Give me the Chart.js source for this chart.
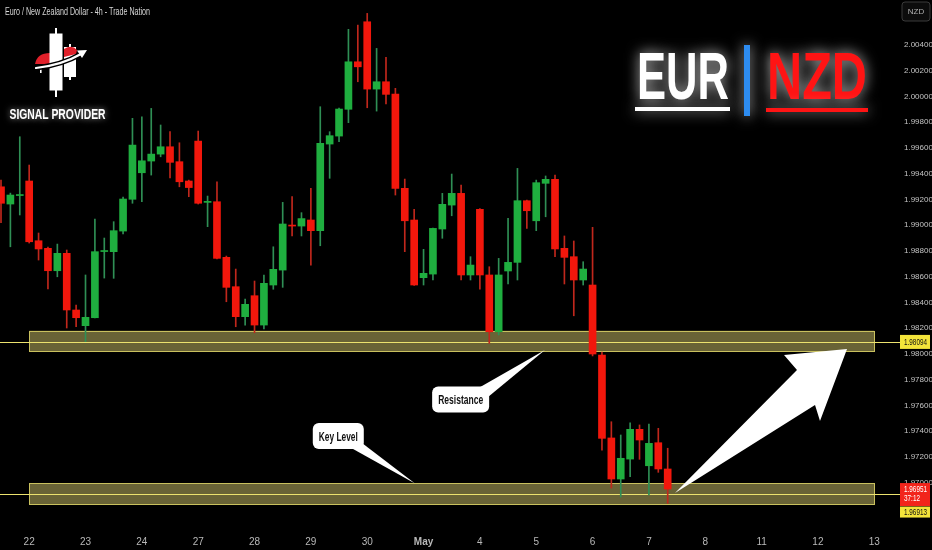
<!DOCTYPE html>
<html>
<head>
<meta charset="utf-8">
<script src="https://cdn.jsdelivr.net/npm/chart.js@4.4.1/dist/chart.umd.min.js"></script>
<style>
    html, body { margin: 0; padding: 0; background: #000; }
    #wrap { width: 932px; height: 550px; }
</style>
</head>
<body>
<div id="wrap"><canvas id="chart" width="932" height="550"></canvas></div>
<script>
// Velas de 4h EUR/NZD
const opens = [
    1.99299, 1.99165, 1.99231, 1.99344, 1.98880, 1.98821, 1.98647, 1.98782, 1.98342, 1.98220,
    1.98282, 1.98796, 1.98795, 1.98955, 1.99202, 1.99408, 1.99499, 1.99553, 1.99610, 1.99494,
    1.99344, 1.99654, 1.99178, 1.99183, 1.98751, 1.98523, 1.98290, 1.98453, 1.98225, 1.98536,
    1.98652, 1.98998, 1.98994, 1.99041, 1.98958, 1.99631, 1.99693, 1.99901, 2.00270, 2.00581,
    2.00058, 2.00115, 2.00019, 1.99287, 1.99041, 1.98593, 1.98621, 1.98971, 1.99157, 1.99248,
    1.98614, 1.99124, 1.98614, 1.98173, 1.98645, 1.98712, 1.99191, 1.99035, 1.99326, 1.99357,
    1.98821, 1.98756, 1.98575, 1.98536, 1.97992, 1.97348, 1.97029, 1.97184, 1.97415, 1.97132,
    1.97311, 1.97107
];
const highs = [
    1.99351, 1.99250, 1.99688, 1.99468, 1.98940, 1.98831, 1.98854, 1.98808, 1.98381, 1.98614,
    1.99049, 1.98901, 1.99028, 1.99219, 1.99831, 1.99843, 1.99908, 1.99779, 1.99727, 1.99641,
    1.99351, 1.99732, 1.99227, 1.99338, 1.98761, 1.98660, 1.98427, 1.98567, 1.98614, 1.98833,
    1.99178, 1.99222, 1.99098, 1.99287, 1.99921, 1.99727, 1.99911, 2.00522, 2.00555, 2.00646,
    2.00374, 2.00304, 2.00064, 1.99359, 1.99124, 1.98813, 1.98979, 1.99248, 1.99398, 1.99313,
    1.98756, 1.99130, 1.98678, 1.98743, 1.99054, 1.99442, 1.99196, 1.99351, 1.99383, 1.99390,
    1.98917, 1.98878, 1.98717, 1.98984, 1.98016, 1.97474, 1.97371, 1.97466, 1.97449, 1.97456,
    1.97423, 1.97268
];
const lows = [
    1.99020, 1.98833, 1.99080, 1.98862, 1.98730, 1.98505, 1.98600, 1.98202, 1.98212, 1.98096,
    1.98280, 1.98590, 1.98588, 1.98932, 1.99171, 1.99183, 1.99390, 1.99532, 1.99367, 1.99299,
    1.99222, 1.99165, 1.98989, 1.98738, 1.98406, 1.98212, 1.98225, 1.98165, 1.98194, 1.98503,
    1.98518, 1.98917, 1.98917, 1.98691, 1.98841, 1.99365, 1.99649, 1.99797, 2.00115, 1.99913,
    1.99887, 1.99942, 1.99235, 1.98795, 1.98532, 1.98536, 1.98575, 1.98899, 1.99074, 1.98575,
    1.98575, 1.98503, 1.98083, 1.98148, 1.98544, 1.98575, 1.98976, 1.98958, 1.99066, 1.98756,
    1.98544, 1.98297, 1.98536, 1.97985, 1.97254, 1.96959, 1.96889, 1.97047, 1.97182, 1.96905,
    1.97081, 1.96840
];
const closes = [
    1.99171, 1.99235, 1.99235, 1.98872, 1.98816, 1.98647, 1.98782, 1.98342, 1.98282, 1.98285,
    1.98795, 1.98800, 1.98958, 1.99204, 1.99623, 1.99501, 1.99553, 1.99610, 1.99489, 1.99338,
    1.99293, 1.99171, 1.99181, 1.98743, 1.98518, 1.98290, 1.98386, 1.98225, 1.98549, 1.98658,
    1.99010, 1.98994, 1.99052, 1.98958, 1.99637, 1.99696, 1.99903, 2.00270, 2.00231, 2.00058,
    2.00115, 2.00017, 1.99287, 1.99035, 1.98536, 1.98627, 1.98976, 1.99163, 1.99248, 1.98614,
    1.98691, 1.98614, 1.98173, 1.98614, 1.98712, 1.99191, 1.99113, 1.99331, 1.99357, 1.98816,
    1.98751, 1.98575, 1.98660, 1.98000, 1.97345, 1.97029, 1.97190, 1.97415, 1.97332, 1.97306,
    1.97107, 1.96951
];

// Eje de tiempo: índice de vela donde empieza cada día
const dayIndex = [3, 9, 15, 21, 27, 33, 39, 45, 51, 57, 63, 69, 75, 81, 87, 93];
const dayLabels = ['22', '23', '24', '27', '28', '29', '30', 'May', '4', '5', '6', '7', '8', '11', '12', '13'];

// Eje de precios
const priceTicks = [
    1.970, 1.972, 1.974, 1.976, 1.978, 1.980, 1.982, 1.984, 1.986,
    1.988, 1.990, 1.992, 1.994, 1.996, 1.998, 2.000, 2.002, 2.004
];

// Niveles y zonas
const zoneSpan = [3, 93];
const resistanceZone = [1.98023, 1.98181];
const keyZone = [1.96835, 1.96996];
const resistanceLevel = 1.98094;
const keyLevel = 1.96913;
const lastPrice = 1.96951;
const countdown = '37:12';

// Anotaciones (índice de vela, precio)
const arrowPoints = [
    [71.78, 1.96920], [84.77, 1.97876], [83.39, 1.97992],
    [90.10, 1.98039], [87.22, 1.97480], [86.69, 1.97604]
];
const callouts = [
    { text: 'Resistance', at: [48.95, 1.97647], w: 57, tip: [57.93, 1.98031], tail: [[17, -11], [28, -3]] },
    { text: 'Key Level', at: [35.92, 1.97363], w: 51, tip: [44.09, 1.96994], tail: [[13, 12], [25, 8]] }
];

const GREEN = '#1fae3f';
const RED = '#f2170c';
const WICK_UP = '#2f8f55';
const WICK_DN = '#c0271c';
const NARROW = '"Liberation Sans Narrow", "Liberation Sans", sans-serif';

const isUp = i => closes[i] >= opens[i];

// Texto ajustado a un ancho dado (fuente condensada)
function fitText(ctx, text, x, y, w, font, align) {
    ctx.save();
    ctx.font = font;
    const m = ctx.measureText(text).width;
    ctx.translate(align === 'center' ? x - w / 2 : x, y);
    ctx.scale(w / m, 1);
    ctx.textAlign = 'left';
    ctx.fillText(text, 0, 0);
    ctx.restore();
}

function roundRect(ctx, x, y, w, h, r) {
    ctx.beginPath();
    ctx.moveTo(x + r, y);
    ctx.arcTo(x + w, y, x + w, y + h, r);
    ctx.arcTo(x + w, y + h, x, y + h, r);
    ctx.arcTo(x, y + h, x, y, r);
    ctx.arcTo(x, y, x + w, y, r);
    ctx.closePath();
}

function drawLogo(ctx) {
    ctx.save();
    // mancha roja izquierda
    ctx.fillStyle = '#e0202a';
    ctx.beginPath();
    ctx.moveTo(35, 64);
    ctx.quadraticCurveTo(37, 53, 50, 53);
    ctx.lineTo(50, 64);
    ctx.closePath();
    ctx.fill();
    // velas blancas
    ctx.fillStyle = '#fff';
    ctx.fillRect(55, 28, 2, 69);
    ctx.fillRect(49.5, 33.5, 13, 57);
    ctx.fillRect(69, 44, 2, 36);
    ctx.fillRect(64, 47, 12, 30);
    ctx.fillRect(40, 67, 1.6, 6);
    // parte roja de la vela corta
    ctx.fillStyle = '#e0202a';
    ctx.beginPath();
    ctx.moveTo(64, 57);
    ctx.lineTo(64, 49);
    ctx.quadraticCurveTo(72, 44, 77, 50);
    ctx.lineTo(76, 54);
    ctx.closePath();
    ctx.fill();
    // flecha curva
    ctx.lineCap = 'round';
    ctx.strokeStyle = '#000';
    ctx.lineWidth = 5;
    ctx.beginPath();
    ctx.moveTo(36, 68);
    ctx.quadraticCurveTo(62, 65, 81, 54);
    ctx.stroke();
    ctx.strokeStyle = '#fff';
    ctx.lineWidth = 2.2;
    ctx.stroke();
    ctx.fillStyle = '#fff';
    ctx.beginPath();
    ctx.moveTo(87, 50);
    ctx.lineTo(77, 50.5);
    ctx.lineTo(82, 58);
    ctx.closePath();
    ctx.fill();
    ctx.restore();
}

const overlayPlugin = {
    id: 'overlay',
    beforeDraw(chart) {
        const ctx = chart.ctx;
        ctx.save();
        ctx.fillStyle = '#000';
        ctx.fillRect(0, 0, chart.width, chart.height);
        ctx.restore();
    },
    beforeDatasetsDraw(chart) {
        const ctx = chart.ctx;
        const X = v => chart.scales.x.getPixelForValue(v);
        const Y = v => chart.scales.y.getPixelForValue(v);
        const area = chart.chartArea;
        ctx.save();
        [resistanceZone, keyZone].forEach(z => {
            const x0 = X(zoneSpan[0]), x1 = X(zoneSpan[1]);
            const y0 = Y(z[1]), y1 = Y(z[0]);
            ctx.fillStyle = 'rgba(175,165,90,0.6)';
            ctx.fillRect(x0, y0, x1 - x0, y1 - y0);
            ctx.strokeStyle = '#c9c15e';
            ctx.lineWidth = 1;
            ctx.strokeRect(Math.round(x0) + 0.5, Math.round(y0) + 0.5, Math.round(x1 - x0), Math.round(y1 - y0));
        });
        [resistanceLevel, keyLevel].forEach(l => {
            const y = Math.round(Y(l)) + 0.5;
            ctx.strokeStyle = '#ece26e';
            ctx.lineWidth = 1.2;
            ctx.beginPath();
            ctx.moveTo(area.left, y);
            ctx.lineTo(area.right, y);
            ctx.stroke();
        });
        ctx.restore();
    },
    afterDatasetsDraw(chart) {
        const ctx = chart.ctx;
        const X = v => chart.scales.x.getPixelForValue(v);
        const Y = v => chart.scales.y.getPixelForValue(v);
        const area = chart.chartArea;
        ctx.save();

        // Flecha blanca
        ctx.fillStyle = '#fff';
        ctx.beginPath();
        arrowPoints.forEach((p, k) => {
            const x = X(p[0]), y = Y(p[1]);
            if (k === 0) ctx.moveTo(x, y); else ctx.lineTo(x, y);
        });
        ctx.closePath();
        ctx.fill();

        // Llamadas
        callouts.forEach(c => {
            const cx = X(c.at[0]), cy = Y(c.at[1]);
            ctx.fillStyle = '#fff';
            ctx.beginPath();
            ctx.moveTo(cx + c.tail[0][0], cy + c.tail[0][1]);
            ctx.lineTo(X(c.tip[0]), Y(c.tip[1]));
            ctx.lineTo(cx + c.tail[1][0], cy + c.tail[1][1]);
            ctx.closePath();
            ctx.fill();
            roundRect(ctx, cx - c.w / 2, cy - 13, c.w, 26, 6);
            ctx.fill();
            ctx.fillStyle = '#111';
            ctx.textBaseline = 'alphabetic';
            fitText(ctx, c.text, cx, cy + 4.5, c.w - 12, 'bold 12px ' + NARROW, 'center');
        });

        // Etiquetas de precio en el eje
        const tagX = area.right;
        const tagW = chart.width - area.right - 2;
        const tagFont = '9px ' + NARROW;
        ctx.textBaseline = 'middle';
        let y = Y(resistanceLevel);
        ctx.fillStyle = '#f3e43a';
        ctx.fillRect(tagX, y - 7, tagW, 14);
        ctx.fillStyle = '#111';
        fitText(ctx, resistanceLevel.toFixed(5), tagX + 4, y + 0.5, 23, tagFont);

        y = Y(lastPrice);
        const redTop = y - 6;
        ctx.fillStyle = '#f2241b';
        ctx.fillRect(tagX, redTop, tagW, 23);
        ctx.fillStyle = '#fff';
        fitText(ctx, lastPrice.toFixed(5), tagX + 4, redTop + 6, 23, tagFont);
        fitText(ctx, countdown, tagX + 4, redTop + 15.5, 16, tagFont);
        ctx.fillStyle = '#f3e43a';
        ctx.fillRect(tagX, redTop + 23.5, tagW, 11);
        ctx.fillStyle = '#111';
        fitText(ctx, keyLevel.toFixed(5), tagX + 4, redTop + 29.5, 23, tagFont);

        // Botón de moneda
        roundRect(ctx, area.right + 2, 2, 28, 19, 3);
        ctx.fillStyle = '#0c0c0c';
        ctx.fill();
        ctx.strokeStyle = '#3a3a3a';
        ctx.lineWidth = 1;
        ctx.stroke();
        ctx.fillStyle = '#b0b0b0';
        ctx.font = '8px ' + NARROW;
        ctx.textAlign = 'center';
        ctx.fillText('NZD', area.right + 16, 12);

        // Título
        ctx.textBaseline = 'alphabetic';
        ctx.fillStyle = '#d6d6d6';
        fitText(ctx, 'Euro / New Zealand Dollar - 4h - Trade Nation', 5, 15, 145, '10px ' + NARROW);

        drawLogo(ctx);

        ctx.shadowColor = 'rgba(255,255,255,0.6)';
        ctx.shadowBlur = 6;
        ctx.fillStyle = '#fff';
        fitText(ctx, 'SIGNAL PROVIDER', 9.5, 119, 96, 'bold 15px ' + NARROW);

        // EUR | NZD
        ctx.shadowColor = 'rgba(255,255,255,0.75)';
        ctx.shadowBlur = 14;
        ctx.fillStyle = '#fff';
        fitText(ctx, 'EUR', 637, 99, 92, 'bold 67px ' + NARROW);
        ctx.fillRect(635, 107, 95, 4);
        ctx.fillStyle = '#2d8cf0';
        ctx.fillRect(744, 45, 6, 71);
        ctx.fillStyle = '#ff1414';
        fitText(ctx, 'NZD', 767, 99, 100, 'bold 67px ' + NARROW);
        ctx.fillRect(766, 108, 102, 4);

        ctx.restore();
    }
};

// Sin márgenes extra: el área de trazado ocupa de 0 a 900 x 0 a 528
function noPadding(s) {
    s.paddingTop = 0;
    s.paddingBottom = 0;
    s.paddingLeft = 0;
    s.paddingRight = 0;
}

const canvas = document.getElementById('chart');
const chart = new Chart(canvas.getContext('2d'), {
    type: 'bar',
    data: {
        datasets: [
            {
                label: 'wick',
                data: highs.map((h, i) => ({ x: i, y: [lows[i], h] })),
                backgroundColor: highs.map((h, i) => isUp(i) ? WICK_UP : WICK_DN),
                barThickness: 1,
                grouped: false,
                order: 2
            },
            {
                label: 'body',
                data: opens.map((o, i) => ({ x: i, y: [o, closes[i]] })),
                backgroundColor: opens.map((o, i) => isUp(i) ? GREEN : RED),
                barThickness: 7,
                minBarLength: 1,
                grouped: false,
                order: 1
            }
        ]
    },
    options: {
        responsive: false,
        animation: false,
        devicePixelRatio: 1,
        layout: { padding: 0 },
        plugins: {
            legend: { display: false },
            tooltip: { enabled: false }
        },
        scales: {
            x: {
                type: 'linear',
                bounds: 'data',
                offset: false,
                min: -0.1065,
                max: 95.74,
                grid: { display: false, drawTicks: false },
                border: { display: false },
                afterFit: s => { s.height = 22; noPadding(s); },
                afterBuildTicks: s => { s.ticks = dayIndex.map(v => ({ value: v })); },
                ticks: {
                    autoSkip: false,
                    maxRotation: 0,
                    padding: 8,
                    color: '#b8b8b8',
                    font: c => ({ family: NARROW, size: 10, weight: dayLabels[c.index] === 'May' ? 'bold' : 'normal' }),
                    callback: (v, idx) => dayLabels[idx]
                }
            },
            y: {
                position: 'right',
                bounds: 'data',
                min: 1.966485,
                max: 2.0075,
                grid: { display: false, drawTicks: false },
                border: { display: false },
                afterFit: s => { s.width = 32; noPadding(s); },
                afterBuildTicks: s => { s.ticks = priceTicks.map(v => ({ value: v })); },
                ticks: {
                    autoSkip: false,
                    padding: 4,
                    color: '#c4c4c4',
                    font: { family: NARROW, size: 8 },
                    callback: v => v.toFixed(5)
                }
            }
        }
    },
    plugins: [overlayPlugin]
});
</script>
</body>
</html>
